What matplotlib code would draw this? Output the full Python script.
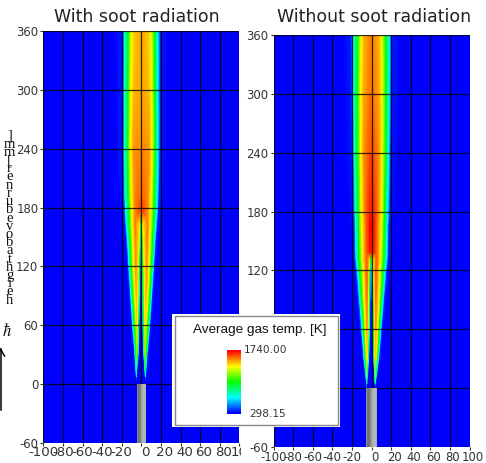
import numpy as np
import matplotlib
matplotlib.use('Agg')
import matplotlib.pyplot as plt
from matplotlib.colors import LinearSegmentedColormap, Normalize
from matplotlib.cm import ScalarMappable
from matplotlib.patches import Rectangle
from matplotlib.transforms import Bbox, ScaledTranslation

plt.rcParams['axes.unicode_minus'] = False

W, H = 486, 463
x_ticks = [-100, -80, -60, -40, -20, 0, 20, 40, 60, 80, 100]
y_ticks = [-60, 0, 60, 120, 180, 240, 300, 360]
ylabel_chars = list("]mm[ renrub evoba thgieh".replace(' ', ''))
t_min, t_max = "298.15", "1740.00"

# temperature levels of the colour knots (0 = blue, 1 = red)
level_blue, level_cyan, level_green, level_yellow = 0.0, 0.25, 0.5, 0.75

# with soot: radial position of each colour band at each height
l_y = [5, 8, 12, 30, 60, 90, 120, 150, 164, 175, 190, 240, 300, 360]
l_center = [0, 0, 0, 0, .02, .04, .1, .3, .5, .93, .9, .86, .83, .83]
l_peak = [0, .25, .35, .6, .78, .83, .86, .88, .88, .87, .86, .85, .82, .8]
l_in_blue = [4.5, 4.0, 3.7, 2.0, 1.2, .8, .5, .2, .1, .1, .1, .1, .1, .1]
l_in_cyan = [4.5, 4.2, 4.0, 2.7, 1.8, 1.4, 1.0, .4, .2, .2, .2, .2, .2, .2]
l_in_green = [4.5, 4.4, 4.2, 3.3, 2.5, 2.0, 1.5, .7, .3, .3, .3, .3, .3, .3]
l_in_yellow = [4.5, 4.5, 4.3, 3.8, 3.6, 3.2, 3.0, 2.0, .9, 1.5, 1.5, 1.5, 1.5, 1.5]
l_r_peak = [4.5, 4.6, 4.6, 4.2, 4.5, 5.0, 5.5, 6.0, 6.5, 6.5, 7.0, 8.0, 7.5, 7.0]
l_out_yellow = [4.5, 4.7, 4.7, 4.5, 5.0, 6.5, 8.0, 8.7, 9.2, 9.4, 10.0, 11.0, 10.5, 10.0]
l_out_green = [4.6, 4.8, 4.9, 5.3, 7.0, 8.7, 10.3, 11.6, 12.4, 12.8, 13.3, 14.2, 13.8, 13.5]
l_out_cyan = [4.7, 4.9, 5.2, 6.3, 8.7, 10.7, 12.5, 14.2, 15.3, 15.9, 16.5, 17.0, 17.0, 17.0]
l_out_blue = [4.8, 5.1, 5.6, 7.0, 9.7, 11.7, 13.7, 15.5, 16.8, 17.6, 18.3, 19.5, 19.5, 19.5]
l_faint = [5, 6, 7, 9, 12, 14, 16, 18, 20, 21, 23, 26, 27, 28]

# without soot
r_y = [1, 5, 30, 60, 90, 120, 132, 138, 165, 180, 240, 300, 360]
r_center = [0, 0, 0, .02, .05, .2, .5, .97, 1.0, .97, .92, .88, .87]
r_peak = [0, .35, .78, .85, .9, .93, .92, .9, .88, .87, .85, .83, .82]
r_in_blue = [4.5, 3.6, 1.7, .8, .6, .4, .1, .1, .1, .1, .1, .1, .1]
r_in_cyan = [4.5, 3.8, 2.4, 1.5, 1.2, 1.0, .2, .2, .2, .2, .2, .2, .2]
r_in_green = [4.5, 4.0, 3.0, 2.2, 1.8, 1.3, .4, .3, .3, .3, .3, .3, .3]
r_in_yellow = [4.5, 4.1, 3.5, 3.0, 2.6, 2.3, 1.0, 2.0, 2.0, 2.0, 2.0, 2.0, 2.0]
r_r_peak = [4.5, 4.2, 4.3, 4.5, 4.6, 4.6, 5.0, 5.5, 6.0, 7.0, 8.0, 8.0, 8.0]
r_out_yellow = [4.6, 4.4, 5.2, 6.3, 7.4, 8.3, 9.3, 9.4, 10.0, 10.3, 10.8, 10.8, 10.3]
r_out_green = [4.7, 4.6, 6.3, 8.0, 10.0, 11.7, 12.7, 12.8, 13.2, 13.5, 14.5, 14.7, 14.5]
r_out_cyan = [4.8, 4.8, 7.5, 9.8, 12.0, 14.3, 15.7, 15.8, 16.2, 16.5, 17.5, 18.0, 18.2]
r_out_blue = [4.9, 5.0, 8.5, 11.0, 13.5, 16.0, 17.2, 17.4, 18.0, 19.0, 20.0, 20.5, 21.0]
r_faint = [5, 6, 10, 13, 16, 19, 20, 21, 22, 23, 26, 28, 30]

burner_shade = [.55, .45, .44, .5, .58, .66, .7, .72, .72, .68]

rainbow = LinearSegmentedColormap.from_list(
    'rainbow4', ['#0000ff', '#00ffff', '#00ff00', '#ffff00', '#ff0000'])
norm = Normalize(0, 1)


def px_axes(x0, x1, top, bottom):
    return fig.add_axes([x0 / W, 1 - bottom / H, (x1 - x0) / W, (bottom - top) / H])


def draw_panel(ax, ys, center, peak, radii, burner_r, fs, label_dy, nudge):
    ys = np.array(ys, float)
    center = np.array(center, float)
    peak = np.array(peak, float)
    levels = [level_blue, level_cyan, level_green, level_yellow]
    in_r = [np.array(r, float) for r in radii[:4]]
    r_p = np.array(radii[4], float)
    out_r = [np.array(r, float) for r in radii[5:9]]
    faint = np.array(radii[9], float)

    half_r = [np.zeros_like(ys)] + in_r + [r_p] + out_r + [faint, np.full_like(ys, 100.)]
    half_t = [center]
    half_t += [np.clip(lv, center, np.maximum(center, peak)) for lv in levels]
    half_t += [peak]
    half_t += [np.minimum(lv, peak) for lv in [level_yellow, level_green, level_cyan]]
    half_t += [np.minimum(0.03, peak), np.zeros_like(ys), np.zeros_like(ys)]

    R = np.array(half_r).T
    T = np.array(half_t).T
    X = np.hstack([-R[:, :0:-1], R])
    C = np.hstack([T[:, :0:-1], T])
    Y = np.repeat(ys[:, None], X.shape[1], axis=1)

    ax.set_facecolor('#0000ff')
    ax.pcolormesh(X, Y, C, cmap=rainbow, norm=norm, shading='gouraud', zorder=1)
    ax.imshow([burner_shade], cmap='gray', vmin=0, vmax=1, aspect='auto',
              extent=[-burner_r, burner_r, -60, 0], interpolation='bilinear', zorder=3)
    ax.set_xlim(-100, 100)
    ax.set_ylim(-60, 360)
    ax.set_xticks(x_ticks)
    ax.set_yticks(y_ticks)
    ax.set_axisbelow(False)
    ax.grid(True, color='black', lw=0.9, alpha=0.8)
    for s in ax.spines.values():
        s.set_visible(False)
    ax.tick_params(axis='both', length=2, width=0.8, color='#333333', labelcolor='#333333')
    ax.tick_params(axis='x', labelsize=fs, pad=label_dy)
    ax.tick_params(axis='y', labelsize=8.4, pad=1.6)
    for val, lbl in zip(x_ticks, ax.get_xticklabels()):
        if val >= 0:
            lbl.set_transform(lbl.get_transform() + ScaledTranslation(nudge / 100, 0, fig.dpi_scale_trans))


fig = plt.figure(figsize=(W / 100, H / 100), dpi=100, facecolor='white')

ax_l = px_axes(43.3, 239.3, 31, 443)
draw_panel(ax_l, l_y, l_center, l_peak,
           [l_in_blue, l_in_cyan, l_in_green, l_in_yellow, l_r_peak,
            l_out_yellow, l_out_green, l_out_cyan, l_out_blue, l_faint],
           4.4, 9.6, -0.2, 4)
ax_r = px_axes(273.5, 469.5, 35, 447)
draw_panel(ax_r, r_y, r_center, r_peak,
           [r_in_blue, r_in_cyan, r_in_green, r_in_yellow, r_r_peak,
            r_out_yellow, r_out_green, r_out_cyan, r_out_blue, r_faint],
           5.3, 8.4, 0.8, 3)

# last label of the left panel is cut off by the gap in the original
for lbl in ax_l.get_xticklabels():
    lbl.set_clip_box(Bbox([[0, 0], [241, H]]))
    lbl.set_clip_on(True)

fig.text(136.5 / W, 1 - 17 / H, "With soot radiation", ha='center', va='center',
         fontsize=12.5, color='#222222')
fig.text(374.5 / W, 1 - 17 / H, "Without soot radiation", ha='center', va='center',
         fontsize=12.5, color='#222222')

# stacked y label
fig.text(9.5 / W, 1 - 218 / H, "\n".join(ylabel_chars), ha='center', va='center',
         family='Liberation Serif', fontsize=10.5, linespacing=0.52, color='#111111')
fig.text(7 / W, 1 - 331 / H, r"$\hbar$", ha='center', va='center',
         fontsize=12, color='#111111', math_fontfamily='stix')
fig.add_artist(plt.Line2D([0.5 / W, 0.5 / W], [1 - 410 / H, 1 - 349 / H], color='black', lw=1.1))
fig.add_artist(plt.Line2D([-3 / W, 0.5 / W, 4.5 / W], [1 - 356 / H, 1 - 349 / H, 1 - 356 / H],
                          color='black', lw=1.1))

# legend box
fig.add_artist(Rectangle((172 / W, 1 - 427 / H), 168 / W, 113 / H, transform=fig.transFigure,
                         facecolor='white', edgecolor='none', zorder=5))
fig.add_artist(Rectangle((174.5 / W, 1 - 425 / H), 163.5 / W, 109 / H, transform=fig.transFigure,
                         facecolor='white', edgecolor='#888888', lw=1.0, zorder=5.1))
fig.text(260 / W, 1 - 330.5 / H, "Average gas temp. [K]", ha='center', va='center',
         family='Liberation Sans', fontsize=9.7, color='#111111', zorder=6)
cax = px_axes(227, 240.5, 350, 413.5)
cax.set_zorder(7)
cb = fig.colorbar(ScalarMappable(norm=norm, cmap=rainbow.resampled(32)), cax=cax)
cb.outline.set_visible(False)
cb.set_ticks([])
fig.text(244 / W, 1 - 350 / H, t_max, ha='left', va='center', fontsize=7.6, color='#333333', zorder=6)
fig.text(286 / W, 1 - 414 / H, t_min, ha='right', va='center', fontsize=7.6, color='#333333', zorder=6)

fig.savefig('out.png', dpi=100)
